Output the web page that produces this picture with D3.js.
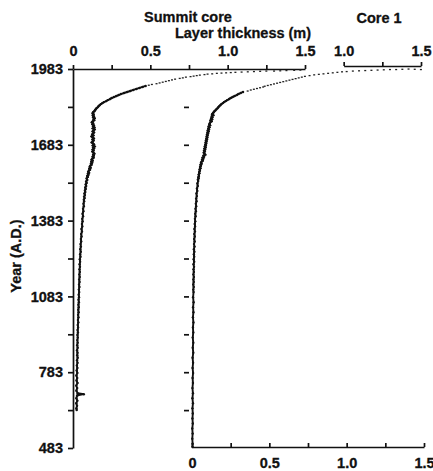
<!DOCTYPE html>
<html>
<head>
<meta charset="utf-8">
<script src="https://cdn.jsdelivr.net/npm/d3@7/dist/d3.min.js"></script>
<style>
  body { margin: 0; background: #fff; }
  svg { display: block; }
  text { font-family: "Liberation Sans", Arial, sans-serif; font-weight: bold; fill: #111; stroke: #111; stroke-width: 0.3px; }
  .axis path, .axis line { stroke: #111; stroke-width: 1.7; fill: none; }
  .axis text { font-size: 14.5px; }
</style>
</head>
<body>
<script>
var width = 433;
var height = 471;

// tick values
var yearTicks = [483, 633, 783, 933, 1083, 1233, 1383, 1533, 1683, 1833, 1983];
var thicknessTicks = [0, 0.25, 0.5, 0.75, 1.0, 1.25, 1.5];
var core1TopTicks = [1.0, 1.25, 1.5];

// Summit core, continuous part of the trace (year, layer thickness m)
var summitYears = [1916, 1912, 1908, 1904, 1900, 1896, 1892, 1888, 1884, 1880, 1876, 1872, 1868, 1864, 1860, 1856, 1852, 1848, 1844, 1840,
  1836, 1832, 1828, 1824, 1820, 1816, 1812, 1808, 1804, 1800, 1796, 1792, 1788, 1784, 1780, 1776, 1772, 1768, 1764, 1760,
  1756, 1752, 1748, 1744, 1740, 1736, 1732, 1728, 1724, 1720, 1716, 1712, 1708, 1704, 1700, 1696, 1692, 1688, 1684, 1680,
  1676, 1672, 1668, 1664, 1660, 1656, 1652, 1648, 1644, 1640, 1636, 1632, 1628, 1624, 1620, 1616, 1612, 1608, 1604, 1600,
  1596, 1592, 1588, 1584, 1580, 1576, 1572, 1568, 1564, 1560, 1556, 1550, 1544, 1538, 1532, 1526, 1520, 1514, 1508, 1502,
  1496, 1490, 1484, 1478, 1472, 1466, 1460, 1450, 1440, 1430, 1420, 1410, 1400, 1390, 1380, 1370, 1360, 1350, 1340, 1330,
  1320, 1310, 1300, 1290, 1280, 1270, 1260, 1250, 1240, 1230, 1220, 1210, 1200, 1190, 1180, 1170, 1160, 1150, 1140, 1130,
  1120, 1110, 1100, 1090, 1080, 1070, 1060, 1050, 1040, 1030, 1020, 1010, 1000, 990, 980, 970, 960, 950, 940, 930,
  920, 910, 900, 890, 880, 870, 860, 850, 840, 830, 820, 810, 800, 790, 780, 770, 760, 750, 740, 730,
  720, 710, 700, 696, 692, 690, 680, 670, 660, 650, 640, 633];
var summitThickness = [0.47, 0.45, 0.43, 0.41, 0.39, 0.37, 0.35, 0.33, 0.31, 0.295, 0.28, 0.265, 0.25, 0.24, 0.225, 0.215, 0.20, 0.19, 0.18, 0.172,
  0.165, 0.16, 0.152, 0.147, 0.142, 0.138, 0.13, 0.127, 0.133, 0.128, 0.135, 0.13, 0.14, 0.133, 0.137, 0.128, 0.122, 0.13, 0.125, 0.135,
  0.13, 0.138, 0.128, 0.14, 0.133, 0.127, 0.136, 0.13, 0.124, 0.132, 0.12, 0.128, 0.135, 0.126, 0.133, 0.128, 0.121, 0.13, 0.136, 0.128,
  0.14, 0.13, 0.136, 0.127, 0.133, 0.125, 0.132, 0.138, 0.13, 0.135, 0.127, 0.133, 0.125, 0.12, 0.127, 0.118, 0.124, 0.116, 0.12, 0.112,
  0.108, 0.114, 0.105, 0.11, 0.102, 0.098, 0.104, 0.096, 0.10, 0.092, 0.096, 0.088, 0.092, 0.085, 0.088, 0.082, 0.085, 0.079, 0.082, 0.077,
  0.079, 0.074, 0.077, 0.072, 0.075, 0.07, 0.072, 0.068, 0.07, 0.065, 0.067, 0.062, 0.065, 0.06, 0.062, 0.058, 0.06, 0.055, 0.058, 0.053,
  0.055, 0.051, 0.053, 0.049, 0.051, 0.047, 0.05, 0.046, 0.048, 0.044, 0.046, 0.043, 0.045, 0.042, 0.044, 0.041, 0.043, 0.04, 0.042, 0.039,
  0.041, 0.038, 0.04, 0.037, 0.039, 0.036, 0.038, 0.035, 0.037, 0.034, 0.036, 0.033, 0.035, 0.032, 0.034, 0.031, 0.033, 0.03, 0.032, 0.029,
  0.031, 0.028, 0.03, 0.027, 0.03, 0.026, 0.029, 0.027, 0.03, 0.026, 0.029, 0.025, 0.028, 0.024, 0.028, 0.022, 0.027, 0.023, 0.029, 0.021,
  0.027, 0.022, 0.03, 0.07, 0.03, 0.026, 0.022, 0.028, 0.021, 0.026, 0.022, 0.024];

// Summit core, scattered points near the surface
var summitTopYears = [1979, 1978, 1977, 1976, 1975, 1975, 1974, 1973, 1972, 1971, 1970, 1969, 1968, 1967, 1966, 1964, 1963, 1961, 1959, 1957,
  1955, 1953, 1951, 1948, 1946, 1943, 1940, 1937, 1934, 1931, 1928, 1925, 1922, 1919];
var summitTopThickness = [1.47, 1.43, 1.38, 1.34, 1.30, 1.25, 1.21, 1.17, 1.13, 1.09, 1.05, 1.02, 0.99, 0.96, 0.93, 0.90, 0.87, 0.85, 0.82, 0.80,
  0.78, 0.76, 0.73, 0.71, 0.69, 0.66, 0.64, 0.62, 0.60, 0.58, 0.56, 0.54, 0.51, 0.49];

// Core 1, continuous part of the trace
var core1Years = [1892, 1888, 1884, 1880, 1876, 1872, 1868, 1864, 1860, 1856, 1852, 1848, 1844, 1840, 1836, 1832, 1828, 1824, 1820, 1816,
  1812, 1808, 1804, 1800, 1796, 1792, 1788, 1784, 1780, 1776, 1772, 1768, 1764, 1760, 1756, 1752, 1748, 1744, 1740, 1736,
  1732, 1728, 1724, 1720, 1716, 1712, 1708, 1704, 1700, 1696, 1692, 1688, 1684, 1680, 1676, 1672, 1668, 1664, 1660, 1656,
  1652, 1648, 1644, 1640, 1636, 1632, 1628, 1624, 1620, 1616, 1612, 1608, 1604, 1600, 1595, 1590, 1585, 1580, 1575, 1570,
  1565, 1560, 1555, 1550, 1545, 1540, 1530, 1520, 1510, 1500, 1490, 1480, 1470, 1460, 1450, 1440, 1430, 1420, 1410, 1400,
  1390, 1380, 1370, 1360, 1350, 1340, 1330, 1320, 1310, 1300, 1290, 1280, 1270, 1260, 1250, 1240, 1230, 1220, 1210, 1200,
  1190, 1180, 1170, 1160, 1150, 1140, 1130, 1120, 1110, 1100, 1080, 1060, 1040, 1020, 1000, 980, 960, 940, 920, 900,
  880, 860, 840, 820, 800, 780, 760, 740, 720, 700, 680, 660, 640, 620, 600, 580, 560, 540, 520, 500, 487];
var core1Thickness = [0.33, 0.315, 0.30, 0.29, 0.275, 0.262, 0.25, 0.24, 0.228, 0.218, 0.207, 0.20, 0.19, 0.183, 0.176, 0.17, 0.165, 0.158, 0.152, 0.145,
  0.14, 0.135, 0.13, 0.138, 0.128, 0.132, 0.124, 0.13, 0.12, 0.127, 0.118, 0.115, 0.112, 0.117, 0.108, 0.113, 0.105, 0.11, 0.102, 0.108,
  0.10, 0.104, 0.097, 0.101, 0.095, 0.099, 0.093, 0.097, 0.09, 0.094, 0.088, 0.092, 0.086, 0.09, 0.083, 0.088, 0.08, 0.085, 0.078, 0.083,
  0.076, 0.08, 0.086, 0.074, 0.078, 0.068, 0.073, 0.065, 0.07, 0.062, 0.058, 0.062, 0.055, 0.058, 0.052, 0.055, 0.049, 0.051, 0.046, 0.048,
  0.043, 0.045, 0.041, 0.043, 0.038, 0.04, 0.035, 0.037, 0.032, 0.034, 0.029, 0.031, 0.027, 0.029, 0.025, 0.027, 0.023, 0.025, 0.021, 0.023,
  0.019, 0.021, 0.018, 0.02, 0.016, 0.019, 0.015, 0.018, 0.014, 0.017, 0.013, 0.016, 0.012, 0.015, 0.012, 0.014, 0.011, 0.014, 0.01, 0.013,
  0.01, 0.012, 0.009, 0.012, 0.009, 0.011, 0.008, 0.011, 0.008, 0.01, 0.007, 0.01, 0.007, 0.009, 0.006, 0.009, 0.006, 0.008, 0.005, 0.008,
  0.005, 0.008, 0.004, 0.007, 0.004, 0.007, 0.004, 0.006, 0.003, 0.006, 0.003, 0.006, 0.003, 0.005, 0.003, 0.005, 0.002, 0.004, 0.002, 0.004, 0.003];

// Core 1, scattered points near the surface
var core1TopYears = [1896, 1900, 1903, 1906, 1909, 1912, 1915, 1918, 1921, 1924, 1927, 1930, 1933, 1936, 1939, 1942, 1945, 1948, 1951, 1954,
  1957, 1960, 1962, 1964, 1966, 1968, 1970, 1972, 1973, 1975, 1976, 1977, 1978, 1979, 1980, 1981, 1981, 1982, 1983, 1982, 1981];
var core1TopThickness = [0.36, 0.38, 0.40, 0.42, 0.44, 0.46, 0.47, 0.49, 0.51, 0.53, 0.55, 0.57, 0.59, 0.61, 0.63, 0.65, 0.67, 0.69, 0.71, 0.73,
  0.76, 0.79, 0.82, 0.85, 0.88, 0.91, 0.94, 0.97, 1.00, 1.04, 1.08, 1.12, 1.16, 1.20, 1.24, 1.28, 1.32, 1.36, 1.40, 1.44, 1.48];

var summit = summitYears.map(function(d, i) { return {year: d, t: summitThickness[i]}; });
var summitTop = summitTopYears.map(function(d, i) { return {year: d, t: summitTopThickness[i]}; });
var core1 = core1Years.map(function(d, i) { return {year: d, t: core1Thickness[i]}; });
var core1Top = core1TopYears.map(function(d, i) { return {year: d, t: core1TopThickness[i]}; });

var svg = d3.select("body").append("svg")
    .attr("width", width)
    .attr("height", height);

var y = d3.scaleLinear().domain([483, 1983]).range([448, 69]);
var xLeft = d3.scaleLinear().domain([0, 1.5]).range([73, 305]);
var xRight = d3.scaleLinear().domain([0, 1.5]).range([192, 424]);

function fmt(d) {
  return d === 0 ? "0" : (d * 100) % 50 === 0 ? d.toFixed(1) : "";
}

// left year axis
var yAxis = d3.axisLeft(y)
    .tickValues(yearTicks)
    .tickSize(5)
    .tickSizeOuter(0)
    .tickPadding(5)
    .tickFormat(function(d) { return (d - 483) % 300 === 0 ? d : ""; });
svg.append("g")
    .attr("class", "axis")
    .attr("transform", "translate(" + xLeft(0) + ",0)")
    .call(yAxis);

// top thickness axis (Summit core)
var topAxis = d3.axisTop(xLeft)
    .tickValues(thicknessTicks)
    .tickSize(4)
    .tickSizeOuter(0)
    .tickPadding(9)
    .tickFormat(fmt);
svg.append("g")
    .attr("class", "axis")
    .attr("transform", "translate(0," + y(1983) + ")")
    .call(topAxis);

// top axis of Core 1 (only 1.0 - 1.5)
var xCore1Top = d3.scaleLinear().domain([1, 1.5]).range([xRight(1), xRight(1.5)]);
svg.append("g")
    .attr("class", "axis")
    .attr("transform", "translate(-3," + (y(1983) - 3) + ")")
    .call(d3.axisTop(xCore1Top).tickValues(core1TopTicks).tickSize(4).tickSizeOuter(0).tickPadding(6).tickFormat(fmt));

// bottom thickness axis (Core 1)
svg.append("g")
    .attr("class", "axis")
    .attr("transform", "translate(0," + (y(483) - 1) + ")")
    .call(d3.axisBottom(xRight).tickValues(thicknessTicks).tickSize(-4).tickSizeOuter(0).tickPadding(11).tickFormat(fmt));

// Core 1 year ticks, no axis line
var rTicks = svg.append("g")
    .attr("class", "axis")
    .attr("transform", "translate(" + (xRight(0) - 3) + ",0)")
    .call(d3.axisLeft(y).tickValues(yearTicks.slice(1, 10)).tickSize(5).tickFormat(""));
rTicks.select(".domain").remove();

// traces
var lineL = d3.line().x(function(d) { return xLeft(d.t); }).y(function(d) { return y(d.year); });
var lineR = d3.line().x(function(d) { return xRight(d.t); }).y(function(d) { return y(d.year); });

svg.append("path").datum(summit)
    .attr("d", lineL)
    .style("fill", "none").style("stroke", "#111").style("stroke-width", 1.9);
svg.append("path").datum(core1)
    .attr("d", lineR)
    .style("fill", "none").style("stroke", "#111").style("stroke-width", 1.9);

svg.selectAll(".dotL").data(summit).enter().append("circle")
    .attr("cx", function(d) { return xLeft(d.t); })
    .attr("cy", function(d) { return y(d.year); })
    .attr("r", 1.2).style("fill", "#111");
svg.selectAll(".dotR").data(core1).enter().append("circle")
    .attr("cx", function(d) { return xRight(d.t); })
    .attr("cy", function(d) { return y(d.year); })
    .attr("r", 1.2).style("fill", "#111");

svg.selectAll(".topL").data(summitTop).enter().append("rect")
    .attr("x", function(d) { return xLeft(d.t) - 1; })
    .attr("y", function(d) { return y(d.year) - 0.6; })
    .attr("width", 2).attr("height", 1.3).style("fill", "#222");
svg.selectAll(".topR").data(core1Top).enter().append("rect")
    .attr("x", function(d) { return xRight(d.t) - 1; })
    .attr("y", function(d) { return y(d.year) - 0.6; })
    .attr("width", 2).attr("height", 1.3).style("fill", "#222");

// titles
svg.append("text").attr("x", 188).attr("y", 22).attr("text-anchor", "middle")
    .style("font-size", "14.5px").text("Summit core");
svg.append("text").attr("x", 243).attr("y", 38).attr("text-anchor", "middle")
    .style("font-size", "14.5px").text("Layer thickness (m)");
svg.append("text").attr("x", 379).attr("y", 23).attr("text-anchor", "middle")
    .style("font-size", "14.5px").text("Core 1");
svg.append("text")
    .attr("transform", "translate(21,256) rotate(-90)")
    .attr("text-anchor", "middle")
    .style("font-size", "14.5px")
    .text("Year (A.D.)");
</script>
</body>
</html>
